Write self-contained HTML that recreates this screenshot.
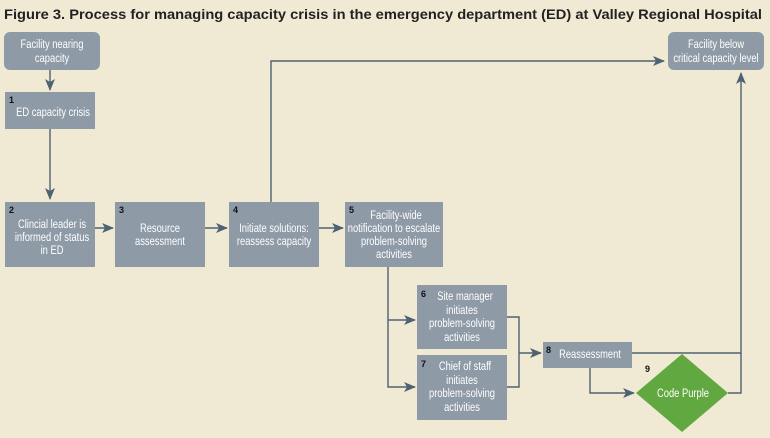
<!DOCTYPE html>
<html><head><meta charset="utf-8"><style>
html,body{margin:0;padding:0;background:#f0ead4;}
svg{display:block;}
.t{font-family:"Liberation Sans",sans-serif;font-size:12px;fill:#fff;text-anchor:middle;transform-box:fill-box;transform-origin:center;transform:scaleX(0.78);}
.n{font-family:"Liberation Sans",sans-serif;font-size:9px;font-weight:bold;fill:#111;}
.l{stroke:#4f6272;stroke-width:1.4;fill:none;}
</style></head><body>
<svg width="770" height="438" viewBox="0 0 770 438" xmlns="http://www.w3.org/2000/svg">
<defs><marker id="a" markerWidth="12" markerHeight="10" refX="11" refY="5" orient="auto" markerUnits="userSpaceOnUse"><path d="M0,0 L12,5 L0,10 L3,5 Z" fill="#4f6272"/></marker></defs>
<rect width="770" height="438" fill="#f0ead4"/>
<text x="4" y="19" font-family="Liberation Sans,sans-serif" font-size="14" font-weight="bold" fill="#222" textLength="758" lengthAdjust="spacingAndGlyphs">Figure 3. Process for managing capacity crisis in the emergency department (ED) at Valley Regional Hospital</text>

<path class="l" d="M50,70 V90" marker-end="url(#a)"/>
<path class="l" d="M50,129 V199" marker-end="url(#a)"/>
<path class="l" d="M95,228 H113" marker-end="url(#a)"/>
<path class="l" d="M205,228 H227" marker-end="url(#a)"/>
<path class="l" d="M319,228 H343" marker-end="url(#a)"/>
<path class="l" d="M271,202 V61 H664" marker-end="url(#a)"/>
<path class="l" d="M388,267 V387 H415" marker-end="url(#a)"/>
<path class="l" d="M388,320 H415" marker-end="url(#a)"/>
<path class="l" d="M507,317 H519 V387 H507"/>
<path class="l" d="M519,353 H541" marker-end="url(#a)"/>
<path class="l" d="M632,353 H741"/>
<path class="l" d="M590,368 V393 H634" marker-end="url(#a)"/>
<path class="l" d="M728,393 H741 V73" marker-end="url(#a)"/>

<rect x="4" y="32" width="96" height="38" rx="6" fill="#8e9aa6"/>
<text class="t" x="52" y="48">Facility nearing</text><text class="t" x="52" y="62">capacity</text>

<rect x="668" y="32" width="96" height="38" rx="6" fill="#8e9aa6"/>
<text class="t" x="716" y="48">Facility below</text><text class="t" x="716" y="62">critical capacity level</text>

<rect x="5" y="92" width="90" height="37" fill="#8e9aa6"/>
<text class="n" x="9" y="103">1</text><text class="t" x="53" y="116">ED capacity crisis</text>

<rect x="5" y="202" width="90" height="65" fill="#8e9aa6"/>
<text class="n" x="9" y="213">2</text>
<text class="t" x="52" y="228">Clincial leader is</text><text class="t" x="52" y="241">informed of status</text><text class="t" x="52" y="254">in ED</text>

<rect x="115" y="202" width="90" height="65" fill="#8e9aa6"/>
<text class="n" x="119" y="213">3</text>
<text class="t" x="160" y="232">Resource</text><text class="t" x="160" y="245">assessment</text>

<rect x="229" y="202" width="90" height="65" fill="#8e9aa6"/>
<text class="n" x="233" y="213">4</text>
<text class="t" x="274" y="232">Initiate solutions:</text><text class="t" x="274" y="245">reassess capacity</text>

<rect x="345" y="202" width="98" height="65" fill="#8e9aa6"/>
<text class="n" x="349" y="213">5</text>
<text class="t" x="396" y="219">Facility-wide</text><text class="t" x="394" y="232">notification to escalate</text><text class="t" x="394" y="245">problem-solving</text><text class="t" x="394" y="258">activities</text>

<rect x="417" y="285" width="90" height="64" fill="#8e9aa6"/>
<text class="n" x="421" y="297">6</text>
<text class="t" x="465" y="300">Site manager</text><text class="t" x="462" y="314">initiates</text><text class="t" x="462" y="327">problem-solving</text><text class="t" x="462" y="341">activities</text>

<rect x="417" y="355" width="90" height="65" fill="#8e9aa6"/>
<text class="n" x="421" y="367">7</text>
<text class="t" x="465" y="370">Chief of staff</text><text class="t" x="462" y="384">initiates</text><text class="t" x="462" y="397">problem-solving</text><text class="t" x="462" y="411">activities</text>

<rect x="543" y="342" width="89" height="26" fill="#8e9aa6"/>
<text class="n" x="546" y="353">8</text>
<text class="t" x="590" y="358">Reassessment</text>

<polygon points="682,354 728,393 682,432 636,393" fill="#62a840"/>
<text class="n" x="645" y="372">9</text>
<text class="t" x="683" y="397">Code Purple</text>
</svg>
</body></html>
